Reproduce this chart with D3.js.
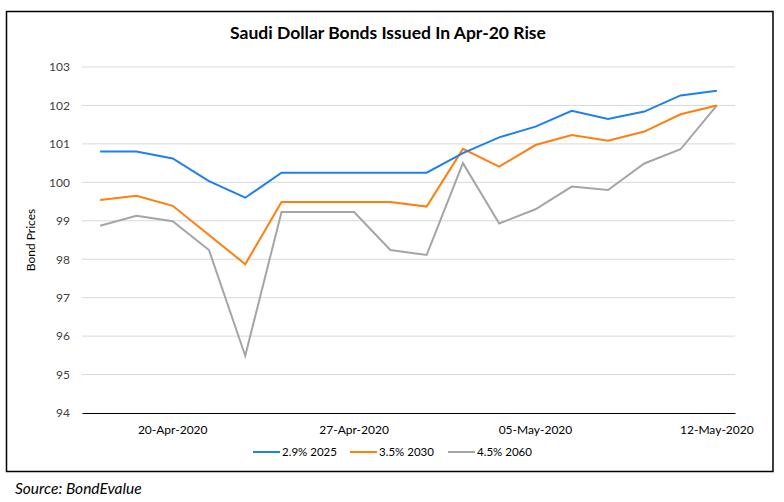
<!DOCTYPE html>
<html>
<head>
<meta charset="utf-8">
<script src="https://cdn.jsdelivr.net/npm/d3@7"></script>
<style>
	body { margin: 0; background: #fff; }
	text { font-family: Lato, "Open Sans", sans-serif; }
</style>
</head>
<body>
<div id="root"></div>
<script>
const dates = ["16-Apr-2020","17-Apr-2020","20-Apr-2020","21-Apr-2020","22-Apr-2020","23-Apr-2020",
	"24-Apr-2020","27-Apr-2020","28-Apr-2020","29-Apr-2020","30-Apr-2020","04-May-2020",
	"05-May-2020","06-May-2020","07-May-2020","08-May-2020","11-May-2020","12-May-2020"]
const tickDates = ["20-Apr-2020","27-Apr-2020","05-May-2020","12-May-2020"]
const yTicks = [94,95,96,97,98,99,100,101,102,103]

const bond2025 = [100.8,100.8,100.62,100.03,99.6,100.25,100.25,100.25,100.25,100.25,
	100.76,101.17,101.45,101.86,101.65,101.84,102.26,102.38]
const bond2030 = [99.54,99.65,99.39,98.63,97.87,99.49,99.49,99.49,99.49,99.37,
	100.87,100.41,100.97,101.23,101.08,101.32,101.77,102.0]
const bond2060 = [98.87,99.13,98.99,98.24,95.49,99.23,99.23,99.23,98.24,98.11,
	100.5,98.93,99.3,99.89,99.8,100.49,100.86,102.0]

const seriesNames = ["2.9% 2025","3.5% 2030","4.5% 2060"]
const COLOR = ["#1f7ff0","#ff7f0e","#a5a5a5"]

const width = 784, height = 502
const margin = {left: 82, right: 49, top: 67, bottom: 89}

const svg = d3.select('#root')
	.append('svg')
	.attr('width', width)
	.attr('height', height)

// outer chart frame
svg.append('rect')
	.attr('x', 6.5).attr('y', 11.5)
	.attr('width', 766.5).attr('height', 460)
	.attr('fill', 'none')
	.attr('stroke', '#000')
	.attr('stroke-width', 1.5)

svg.append('text')
	.attr('x', 388).attr('y', 39)
	.attr('text-anchor', 'middle')
	.style('font-size', '17.5px')
	.style('font-weight', 'bold')
	.text('Saudi Dollar Bonds Issued In Apr-20 Rise')

const x = d3.scaleBand()
	.domain(dates)
	.range([margin.left, width - margin.right])

const y = d3.scaleLinear()
	.domain([94, 103])
	.range([height - margin.bottom, margin.top])

// gridlines
svg.append('g')
	.selectAll('line')
	.data(yTicks.filter(d => d > 94))
	.enter().append('line')
	.attr('x1', margin.left).attr('x2', width - margin.right)
	.attr('y1', d => y(d)).attr('y2', d => y(d))
	.attr('stroke', '#d9d9d9')
	.attr('stroke-width', 1)

const yAxis = svg.append('g')
	.attr('transform', `translate(${margin.left},0)`)
	.call(d3.axisLeft(y).tickValues(yTicks).tickSize(0).tickPadding(12))
yAxis.select('.domain').remove()
yAxis.selectAll('text')
	.style('font-size', '12px')
	.style('font-family', 'Lato, sans-serif')
	.attr('fill', '#404040')

const xAxis = svg.append('g')
	.attr('transform', `translate(0,${y(94)})`)
	.call(d3.axisBottom(x).tickValues(tickDates).tickSize(0).tickPadding(12))
xAxis.select('.domain').attr('stroke', '#000').attr('stroke-width', 1.2)
xAxis.selectAll('text')
	.style('font-size', '12px')
	.style('font-family', 'Lato, sans-serif')
	.attr('fill', '#000')

svg.append('text')
	.attr('transform', `translate(35,${y(98.5)}) rotate(-90)`)
	.attr('text-anchor', 'middle')
	.style('font-size', '12px')
	.attr('fill', '#000')
	.text('Bond Prices')

const line = d3.line()
	.x((d, i) => x(dates[i]) + x.bandwidth() / 2)
	.y(d => y(d))

const allSeries = [bond2025, bond2030, bond2060]
// draw in reverse so the blue line sits on top
allSeries.slice().reverse().forEach((s, j) => {
	const i = allSeries.length - 1 - j
	svg.append('path')
		.datum(s)
		.attr('d', line)
		.attr('fill', 'none')
		.attr('stroke', COLOR[i])
		.attr('stroke-width', 2)
})

// legend
const legendX = [253, 350, 448]
const legend = svg.append('g')
	.selectAll('g')
	.data(seriesNames)
	.enter().append('g')
	.attr('transform', (d, i) => `translate(${legendX[i]},452)`)
legend.append('line')
	.attr('x1', 0).attr('x2', 27)
	.attr('stroke', (d, i) => COLOR[i])
	.attr('stroke-width', 2)
legend.append('text')
	.attr('x', 29).attr('dy', '0.35em')
	.style('font-size', '11.5px')
	.text(d => d)

svg.append('text')
	.attr('x', 15).attr('y', 494)
	.style('font-size', '15.5px')
	.style('font-style', 'italic')
	.text('Source: BondEvalue')
</script>
</body>
</html>
